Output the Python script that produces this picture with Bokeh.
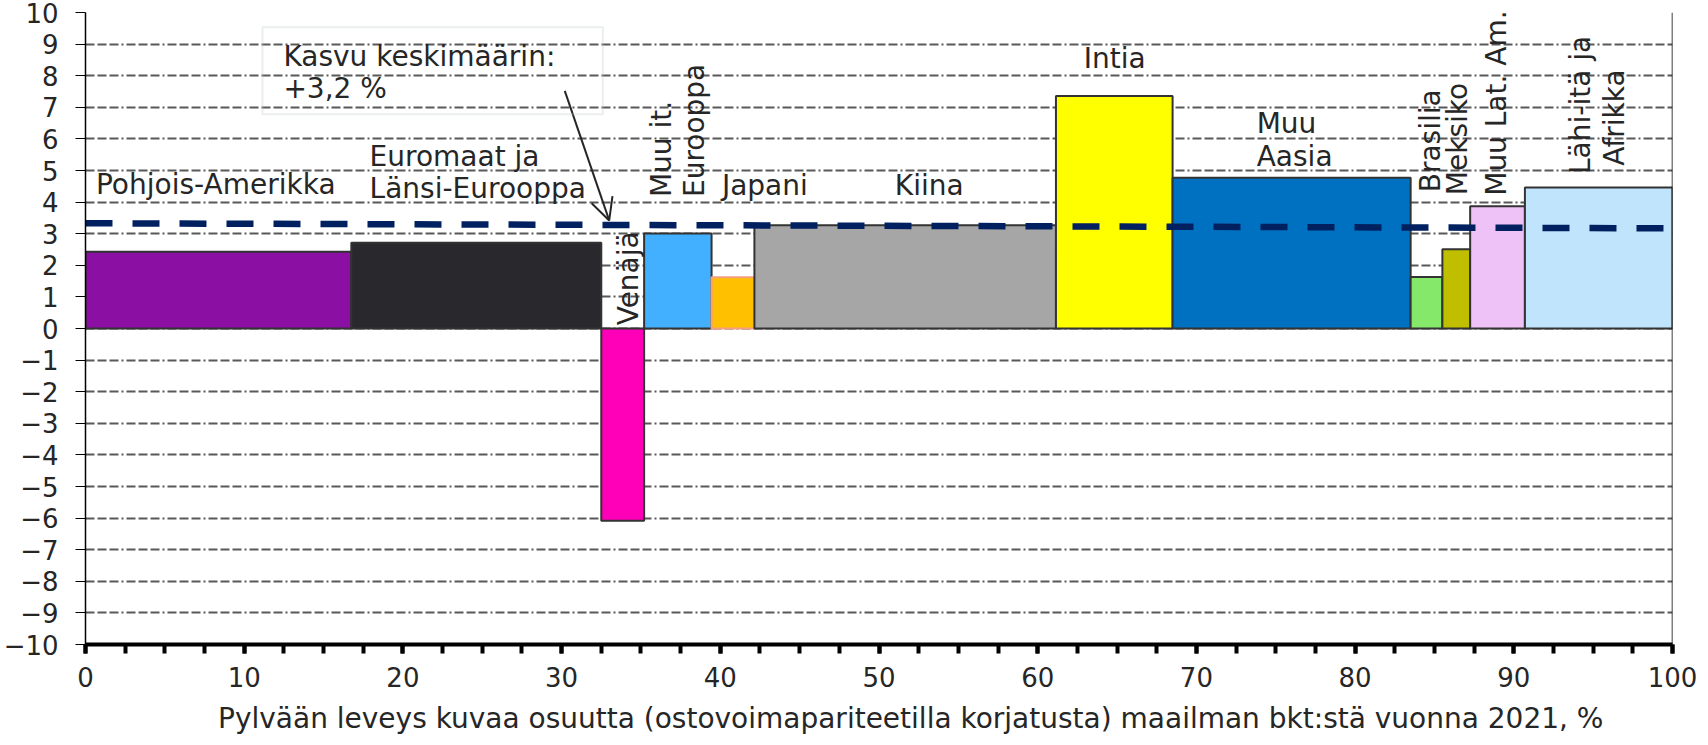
from bokeh.plotting import figure
from bokeh.layouts import column
from bokeh.models import Range1d, FixedTicker, Span, BoxAnnotation, Arrow, OpenHead, ColumnDataSource
from bokeh.core.properties import value
from bokeh.embed import file_html
from bokeh.resources import INLINE
import math

# ---- data ----
regions = ["Pohjois-Amerikka", "Euromaat ja Länsi-Eurooppa", "Venäjä", "Muu it. Eurooppa",
           "Japani", "Kiina", "Intia", "Muu Aasia", "Brasilia", "Meksiko",
           "Muu Lat. Am.", "Lähi-itä ja Afrikka"]
gdp_share = [16.75, 15.75, 2.7, 4.25, 2.7, 19.0, 7.35, 15.0, 2.0, 1.75, 3.45, 9.3]
growth = [2.43, 2.71, -6.08, 3.01, 1.62, 3.27, 7.36, 4.77, 1.63, 2.51, 3.87, 4.46]
avg_x = [0, 100]
avg_y = [3.33, 3.17]
x_ticks = list(range(0, 101, 10))
x_minor = [i * 2.5 for i in range(41)]
y_ticks = list(range(-10, 11))
x_title = "Pylvään leveys kuvaa osuutta (ostovoimapariteetilla korjatusta) maailman bkt:stä vuonna 2021, %"

colors = ["#8a0fa2", "#29282d", "#ff00b8", "#42b0ff", "#ffc000", "#a6a6a6",
          "#ffff00", "#0070c0", "#86e86a", "#bfbf00", "#efc2f7", "#c0e4fc"]
outlines = ["#333333"] * 12
outlines[4] = "#f4a080"

FONT = "DejaVu Sans"
TXT = "#262626"
FS = "28px"
TICK_FS = "26px"

# bar geometry from the data
right = []
acc = 0.0
for s in gdp_share:
    acc += s
    right.append(acc)
left = [r - s for r, s in zip(right, gdp_share)]
bottom = [min(0, v) for v in growth]
top = [max(0, v) for v in growth]

p = figure(width=1700, height=700, output_backend="svg", toolbar_location=None,
           x_range=Range1d(0, 100), y_range=Range1d(-10, 10),
           min_border_left=74, min_border_right=28, min_border_top=12, min_border_bottom=56)
p.outline_line_color = None
p.background_fill_color = "white"

# grid
p.xgrid.visible = False
p.ygrid.ticker = FixedTicker(ticks=y_ticks)
p.ygrid.grid_line_color = "#595959"
p.ygrid.grid_line_width = 2
p.ygrid.grid_line_dash = "9 3 9 3 9 3 2 3"

# axes
p.yaxis.ticker = FixedTicker(ticks=y_ticks)
p.yaxis.axis_line_color = "black"
p.yaxis.axis_line_width = 1.5
p.yaxis.major_tick_out = 10
p.yaxis.major_tick_in = 0
p.yaxis.major_tick_line_color = "black"
p.yaxis.minor_tick_line_color = None
p.yaxis.major_label_standoff = 17
p.yaxis.major_label_text_font = FONT
p.yaxis.major_label_text_font_size = TICK_FS
p.yaxis.major_label_text_color = TXT

p.xaxis.ticker = FixedTicker(ticks=x_ticks, minor_ticks=x_minor)
p.xaxis.axis_line_color = "black"
p.xaxis.axis_line_width = 4
p.xaxis.major_tick_out = 9
p.xaxis.major_tick_in = 0
p.xaxis.minor_tick_out = 9
p.xaxis.minor_tick_in = 0
p.xaxis.major_tick_line_width = 4
p.xaxis.minor_tick_line_width = 4
p.xaxis.major_tick_line_color = "black"
p.xaxis.minor_tick_line_color = "black"
p.xaxis.major_label_standoff = 13
p.xaxis.major_label_text_font = FONT
p.xaxis.major_label_text_font_size = TICK_FS
p.xaxis.major_label_text_color = TXT

# right frame line
p.add_layout(Span(location=100, dimension="height", line_color="black", line_width=1.5))

# bars
src = ColumnDataSource(dict(left=left, right=right, bottom=bottom, top=top,
                            fill=colors, line=outlines, name=regions))
p.quad(left="left", right="right", bottom="bottom", top="top", source=src,
       fill_color="fill", line_color="line", line_width=2)

# average growth line
p.line(avg_x, avg_y, line_color="#002060", line_width=6.5, line_dash="27 20")

# annotation box and arrow
p.add_layout(BoxAnnotation(left=11.15, right=32.6, top=9.53, bottom=6.78,
                           fill_alpha=0, line_color="#b9c9c5", line_width=2, level="overlay"))
p.add_layout(Arrow(end=OpenHead(size=22, line_width=2, line_color="#262626"),
                   x_start=30.2, y_start=7.52, x_end=33.0, y_end=3.42,
                   line_width=2, line_color="#262626"))

# horizontal labels
h_text = ["Pohjois-Amerikka", "Euromaat ja", "Länsi-Eurooppa", "Japani", "Kiina", "Intia",
          "Muu", "Aasia", "Kasvu keskimäärin:", "+3,2 %"]
h_x = [0.66, 17.9, 17.9, 40.1, 51.0, 62.9, 73.8, 73.8, 12.47, 12.47]
h_y = [4.56, 5.45, 4.43, 4.52, 4.52, 8.55, 6.5, 5.43, 8.6, 7.6]
p.text(h_x, h_y, text=h_text, text_font=value(FONT), text_font_size=FS,
       text_color=TXT, text_align="left", text_baseline="middle")

# vertical labels
v_text = ["Venäjä", "Muu it.", "Eurooppa", "Brasilia", "Meksiko", "Muu Lat. Am.",
          "Lähi-itä ja", "Afrikka"]
v_x = [34.2, 36.3, 38.4, 84.75, 86.45, 88.9, 94.2, 96.35]
v_y = [0.1, 4.16, 4.16, 4.31, 4.22, 4.2, 4.89, 5.15]
p.text(v_x, v_y, text=v_text, angle=math.pi / 2, text_font=value(FONT), text_font_size=FS,
       text_color=TXT, text_align="left", text_baseline="middle")

# x-axis title strip beneath the chart (pixel-unit ranges)
t = figure(width=1700, height=37, output_backend="svg", toolbar_location=None,
           x_range=Range1d(0, 1700), y_range=Range1d(0, 37),
           x_axis_type=None, y_axis_type=None,
           min_border_left=0, min_border_right=0, min_border_top=0, min_border_bottom=0)
t.outline_line_color = None
t.grid.visible = False
t.text([884], [19], text=[x_title], text_font=value(FONT), text_font_size=FS,
       text_color=TXT, text_align="center", text_baseline="middle")

open("out.html", "w").write(file_html(column(p, t, spacing=0), INLINE))
